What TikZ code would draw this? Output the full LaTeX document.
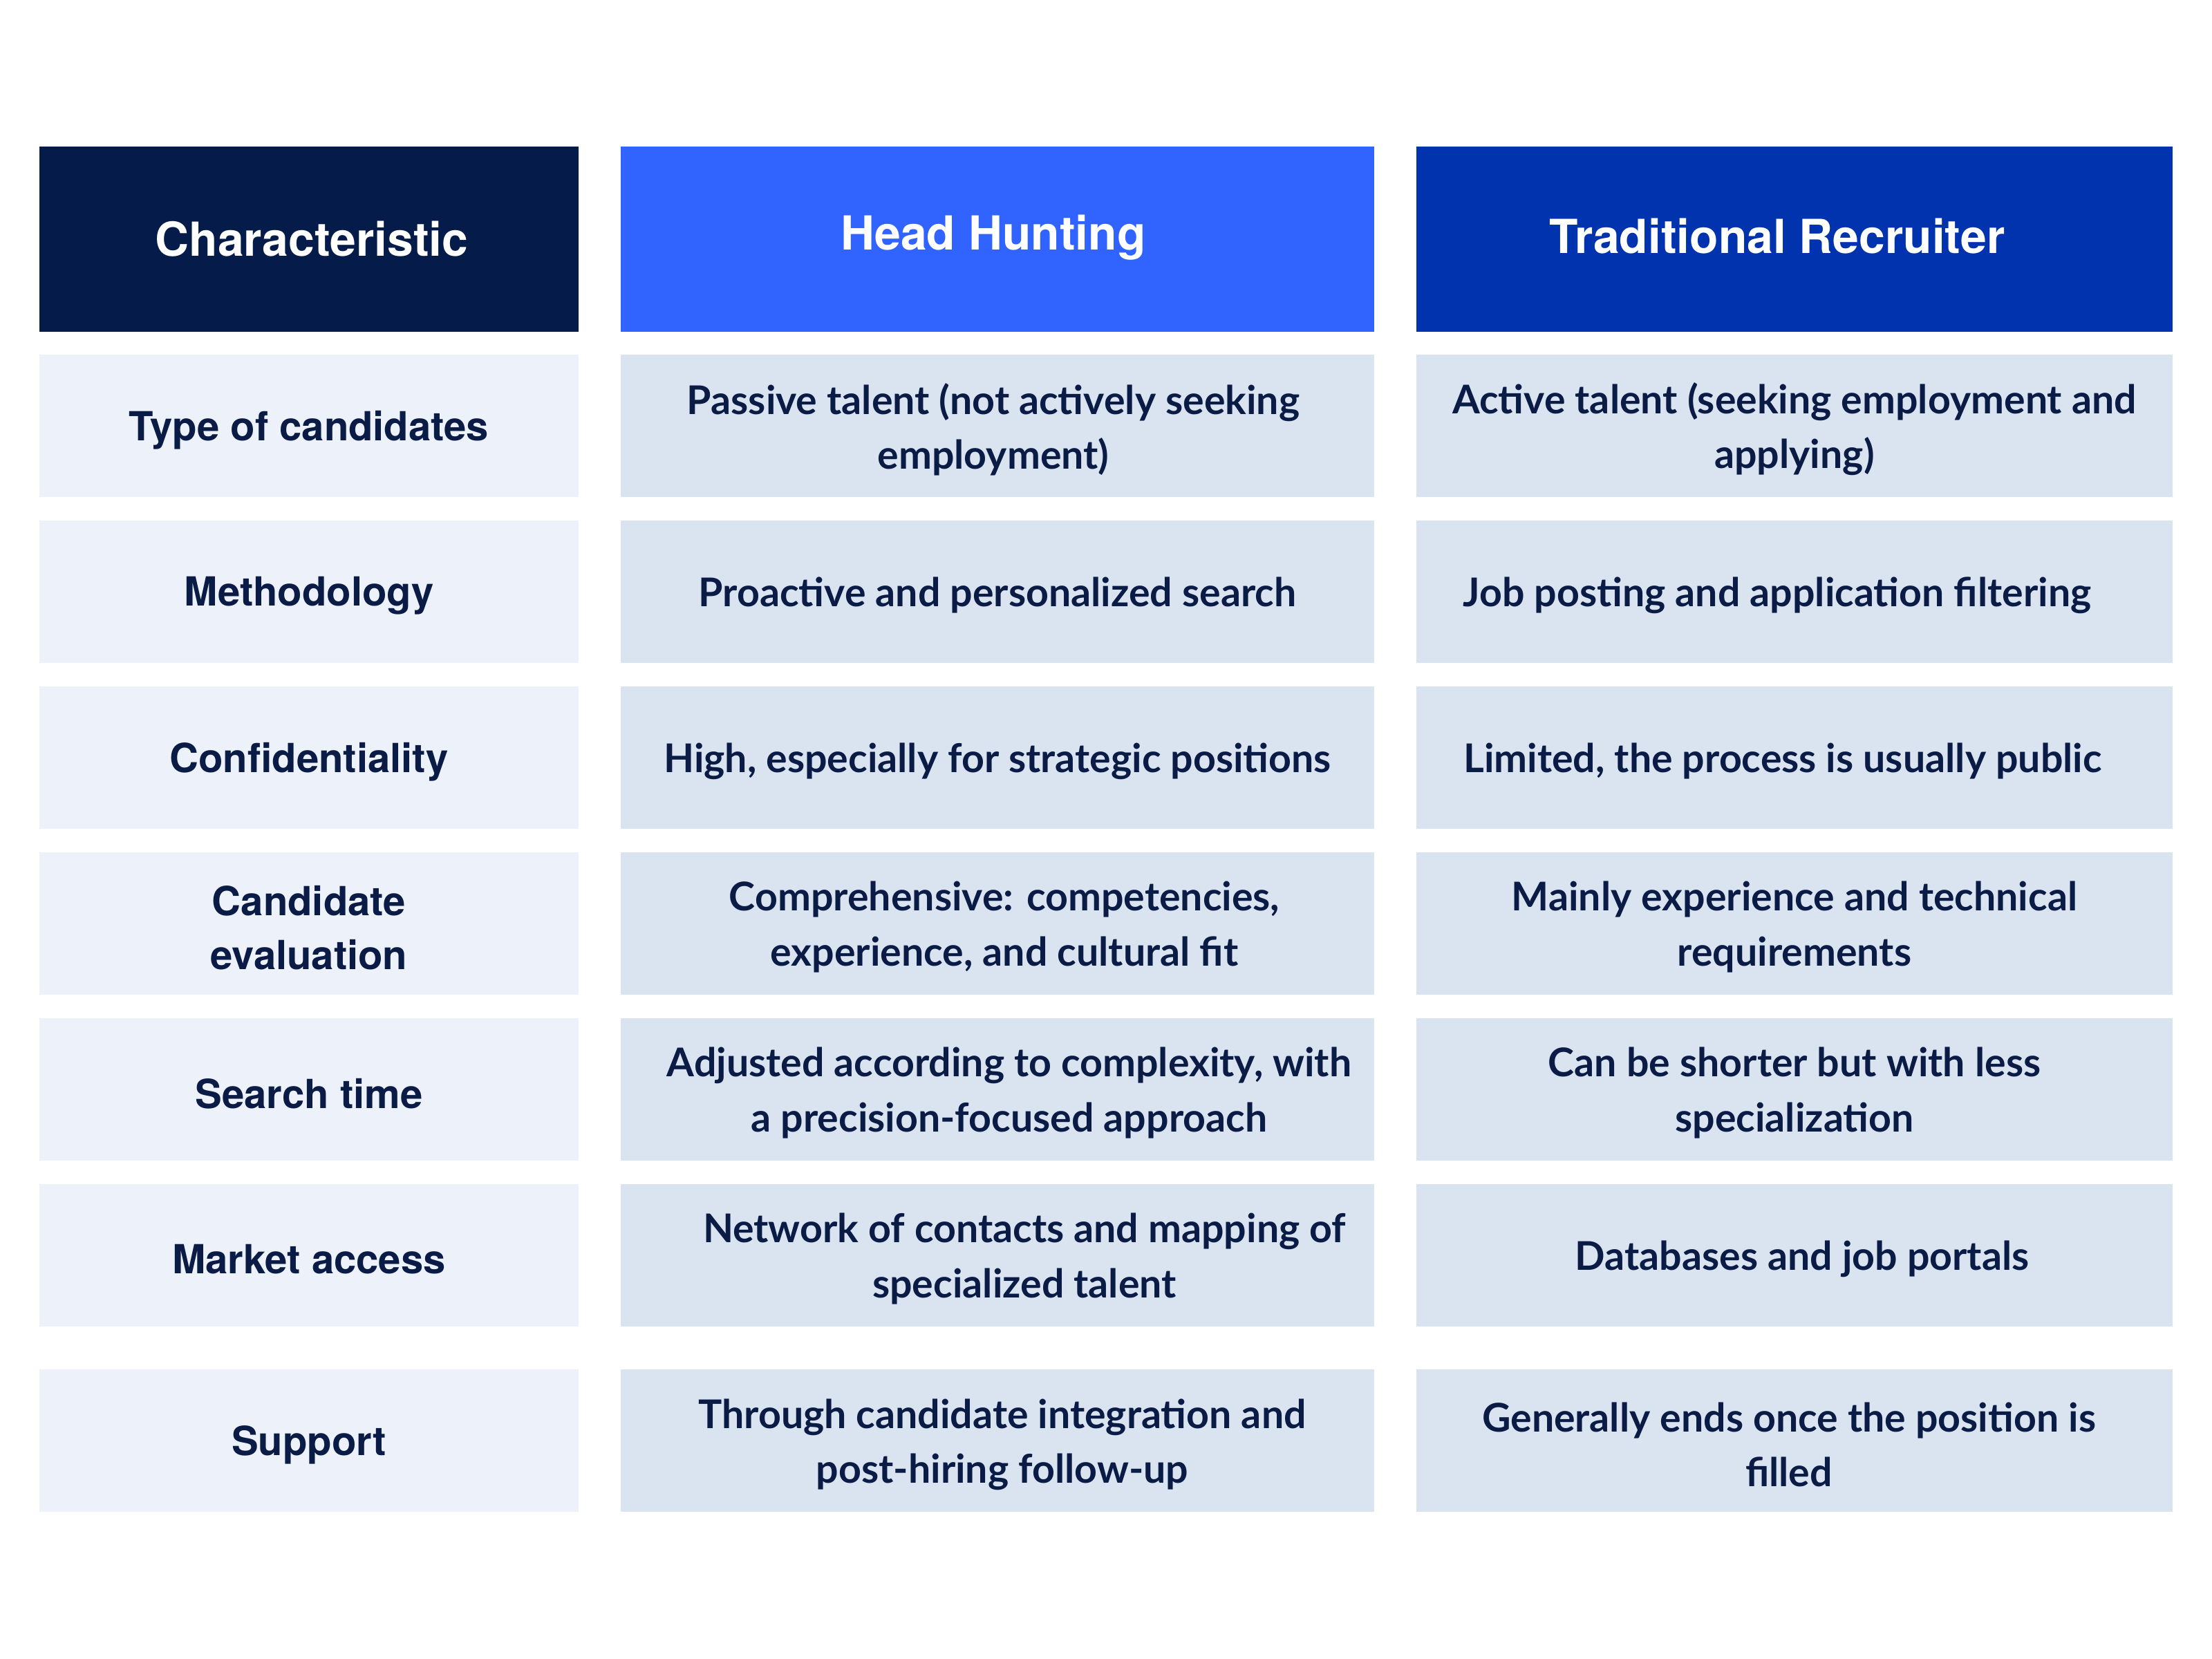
\documentclass[tikz,border=0pt]{standalone}
\usepackage{fontspec}
\setmainfont{Lato}
\newfontfamily\headfont{TeX Gyre Heros}
\usepackage{tikz}
\definecolor{navy}{HTML}{051B4A}
\definecolor{hhblue}{HTML}{3063FF}
\definecolor{trblue}{HTML}{0033AD}
\definecolor{pale}{HTML}{EDF2FA}
\definecolor{cellblue}{HTML}{DAE4F0}
\definecolor{ink}{HTML}{0A1C46}
\tikzstyle{headbox} = [rectangle, inner sep=0pt, minimum height=2.68cm]
\tikzstyle{keybox} = [rectangle, inner sep=0pt, minimum height=2.06cm, minimum width=7.8cm, fill=pale]
\tikzstyle{hhbox} = [rectangle, inner sep=0pt, minimum height=2.06cm, minimum width=10.9cm, fill=cellblue]
\tikzstyle{trbox} = [rectangle, inner sep=0pt, minimum height=2.06cm, minimum width=10.94cm, fill=cellblue]
\tikzstyle{headtxt} = [text=white, font=\headfont\bfseries\fontsize{19.3}{23}\selectfont]
\tikzstyle{keytxt} = [text=ink, align=center, yshift=-0.06cm, font=\headfont\bfseries\fontsize{16.5}{22.2}\selectfont]
\tikzstyle{celltxt} = [text=ink, align=center, yshift=-0.05cm, font=\bfseries\fontsize{16.3}{22.5}\selectfont]

\begin{document}
\begin{tikzpicture}[node distance=2.4cm]
            \useasboundingbox (0,0) rectangle (32,-24);
            
            \node (char) [headbox, fill=navy, minimum width=7.8cm] at (4.47,-3.46) {};
            \node (hh) [headbox, fill=hhblue, minimum width=10.9cm] at (14.43,-3.46) {};
            \node (tr) [headbox, fill=trblue, minimum width=10.94cm] at (25.96,-3.46) {};
            
            \node (type) [keybox, below of = char, yshift = -0.3cm] {};
            \node (typehh) [hhbox, below of = hh, yshift = -0.3cm] {};
            \node (typetr) [trbox, below of = tr, yshift = -0.3cm] {};
            
            \node (method) [keybox, below of = type] {};
            \node (methodhh) [hhbox, below of = typehh] {};
            \node (methodtr) [trbox, below of = typetr] {};
            
            \node (conf) [keybox, below of = method] {};
            \node (confhh) [hhbox, below of = methodhh] {};
            \node (conftr) [trbox, below of = methodtr] {};
            
            \node (eval) [keybox, below of = conf] {};
            \node (evalhh) [hhbox, below of = confhh] {};
            \node (evaltr) [trbox, below of = conftr] {};
            
            \node (time) [keybox, below of = eval] {};
            \node (timehh) [hhbox, below of = evalhh] {};
            \node (timetr) [trbox, below of = evaltr] {};
            
            \node (market) [keybox, below of = time] {};
            \node (markethh) [hhbox, below of = timehh] {};
            \node (markettr) [trbox, below of = timetr] {};
            
            \node (support) [keybox, below of = market, yshift = -0.285cm] {};
            \node (supporthh) [hhbox, below of = markethh, yshift = -0.285cm] {};
            \node (supporttr) [trbox, below of = markettr, yshift = -0.285cm] {};
            
            % texts
            \node (chartxt) [headtxt, xshift = 0.04cm] at (char) {Characteristic};
            \node (hhtxt) [headtxt, xshift = -0.06cm, yshift = 0.02cm] at (hh) {Head Hunting};
            \node (trtxt) [headtxt, xshift = -0.25cm, yshift = 0.04cm] at (tr) {Traditional Recruiter};
            
            \node (typetxt) [keytxt] at (type) {Type of candidates};
            \node (typehhtxt) [celltxt, xshift = -0.06cm] at (typehh) {Passive talent (not actively seeking\\employment)};
            \node (typetrtxt) [celltxt] at (typetr) {Active talent (seeking employment and\\applying)};
            
            \node (methodtxt) [keytxt] at (method) {Methodology};
            \node (methodhhtxt) [celltxt] at (methodhh) {Proactive and personalized search};
            \node (methodtrtxt) [celltxt, xshift = -0.25cm] at (methodtr) {Job posting and application filtering};
            
            \node (conftxt) [keytxt] at (conf) {Confidentiality};
            \node (confhhtxt) [celltxt] at (confhh) {High, especially for strategic positions};
            \node (conftrtxt) [celltxt, xshift = -0.17cm] at (conftr) {Limited, the process is usually public};
            
            \node (evaltxt) [keytxt] at (eval) {Candidate\\evaluation};
            \node (evalhhtxt) [celltxt, xshift = 0.1cm] at (evalhh) {Comprehensive: competencies,\\experience, and cultural fit};
            \node (evaltrtxt) [celltxt] at (evaltr) {Mainly experience and technical\\requirements};
            
            \node (timetxt) [keytxt] at (time) {Search time};
            \node (timehhtxt) [celltxt, xshift = 0.17cm] at (timehh) {Adjusted according to complexity, with\\a precision-focused approach};
            \node (timetrtxt) [celltxt] at (timetr) {Can be shorter but with less\\specialization};
            
            \node (markettxt) [keytxt] at (market) {Market access};
            \node (markethhtxt) [celltxt, xshift = 0.39cm] at (markethh) {Network of contacts and mapping of\\specialized talent};
            \node (markettrtxt) [celltxt, xshift = 0.11cm] at (markettr) {Databases and job portals};
            
            \node (supporttxt) [keytxt] at (support) {Support};
            \node (supporthhtxt) [celltxt, xshift = 0.07cm] at (supporthh) {Through candidate integration and\\post-hiring follow-up};
            \node (supporttrtxt) [celltxt, xshift = -0.08cm] at (supporttr) {Generally ends once the position is\\filled};
\end{tikzpicture}
\end{document}
